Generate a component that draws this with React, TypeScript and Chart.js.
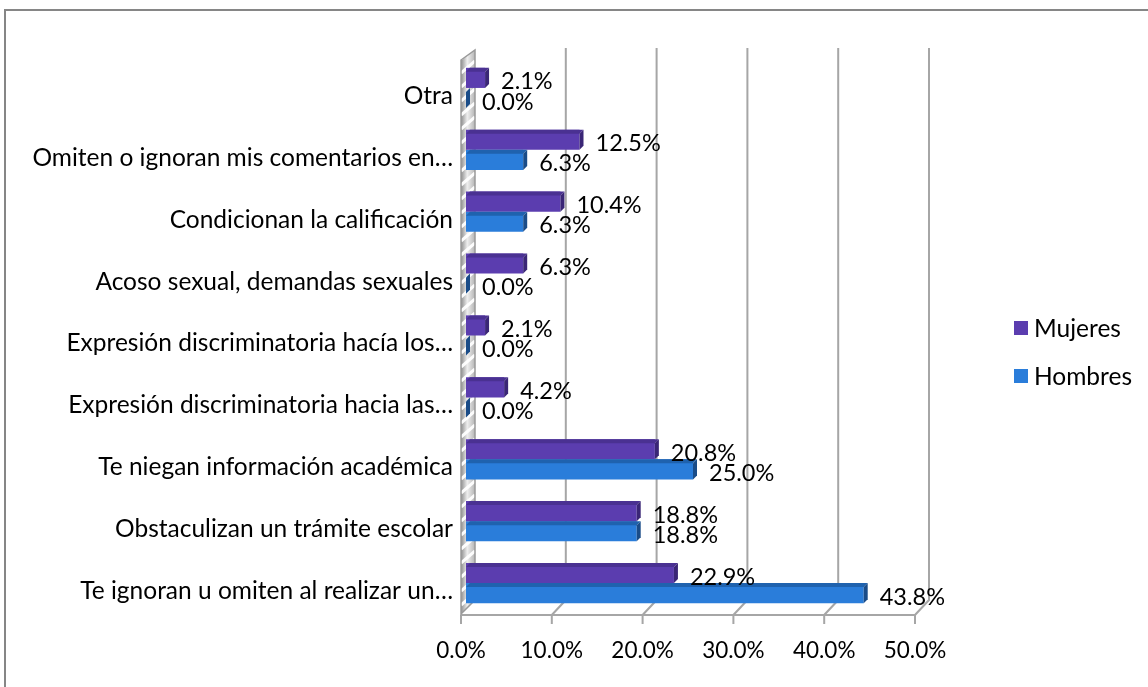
import React, { useEffect, useRef } from "react";
import { Chart, registerables } from "chart.js";

Chart.register(...registerables);

const categories = [
  "Otra",
  "Omiten o ignoran mis comentarios en…",
  "Condicionan la calificación",
  "Acoso sexual, demandas sexuales",
  "Expresión discriminatoria hacía los…",
  "Expresión discriminatoria hacia las…",
  "Te niegan información académica",
  "Obstaculizan un trámite escolar",
  "Te ignoran u omiten al realizar un…",
];
const mujeres = [2.1, 12.5, 10.4, 6.3, 2.1, 4.2, 20.8, 18.8, 22.9];
const hombres = [0.0, 6.3, 6.3, 0.0, 0.0, 0.0, 25.0, 18.8, 43.8];
const xTicks = [0, 10, 20, 30, 40, 50];
const seriesNames = ["Mujeres", "Hombres"];

const frontColors = ["#5B3DAF", "#2A7DDA"];
const topColors = ["#4A3192", "#1F62AE"];
const sideColors = ["#3A2676", "#1A4C88"];
const FONT = "Lato, 'Open Sans', sans-serif";
const FS_TEXT = 24.5;
const FS_NUM = 23.5;

const threeD = {
  id: "threeD",
  beforeDraw(chart: any) {
    const { ctx, width, height } = chart;
    ctx.save();
    ctx.fillStyle = "#ffffff";
    ctx.fillRect(0, 0, width, height);
    ctx.strokeStyle = "#868686";
    ctx.lineWidth = 2;
    ctx.beginPath();
    ctx.moveTo(5, height);
    ctx.lineTo(5, 10);
    ctx.lineTo(width, 10);
    ctx.stroke();
    ctx.restore();
  },
  beforeDatasetsDraw(chart: any) {
    const { ctx, chartArea, scales } = chart;
    const x = scales.x;
    const top = chartArea.top;
    const bottom = chartArea.bottom;
    const backTop = top - 9;
    const backFloor = bottom - 14;
    const frontFloor = bottom + 1;
    ctx.save();
    ctx.strokeStyle = "#a6a6a6";
    ctx.lineWidth = 2;
    for (const v of xTicks) {
      const px = x.getPixelForValue(v);
      ctx.beginPath();
      if (v !== 0) {
        ctx.moveTo(px + 9, backTop);
        ctx.lineTo(px + 9, backFloor);
        ctx.lineTo(px - 5, frontFloor);
      } else {
        ctx.moveTo(px - 5, frontFloor);
      }
      ctx.lineTo(px - 5, frontFloor + 9);
      ctx.stroke();
    }
    const x0 = x.getPixelForValue(0);
    const x50 = x.getPixelForValue(50);
    ctx.beginPath();
    ctx.moveTo(x0 - 5, frontFloor);
    ctx.lineTo(x50 - 5, frontFloor);
    ctx.stroke();

    // side wall
    const wallPath = () => {
      ctx.beginPath();
      ctx.moveTo(x0 - 5, top + 3);
      ctx.lineTo(x0 + 9, top - 7);
      ctx.lineTo(x0 + 9, backFloor);
      ctx.lineTo(x0 - 5, frontFloor - 1);
      ctx.closePath();
    };
    wallPath();
    const g = ctx.createLinearGradient(x0 - 5, 0, x0 + 9, 0);
    g.addColorStop(0, "#8f8f8f");
    g.addColorStop(0.45, "#eeeeee");
    g.addColorStop(1, "#b5b5b5");
    ctx.fillStyle = g;
    ctx.fill();
    ctx.save();
    ctx.clip();
    ctx.strokeStyle = "rgba(255,255,255,0.95)";
    ctx.lineWidth = 3;
    for (let yy = top - 10; yy < frontFloor + 20; yy += 14) {
      ctx.beginPath();
      ctx.moveTo(x0 - 5, yy + 12);
      ctx.lineTo(x0 + 9, yy);
      ctx.stroke();
    }
    ctx.restore();
    ctx.strokeStyle = "#9a9a9a";
    ctx.lineWidth = 1.5;
    wallPath();
    ctx.stroke();
    ctx.restore();
  },
  afterDatasetsDraw(chart: any) {
    const { ctx, chartArea } = chart;
    const d = 4;
    ctx.save();
    for (const di of [1, 0]) {
      const meta = chart.getDatasetMeta(di);
      meta.data.forEach((el: any) => {
        const p = el.getProps(["x", "y", "base", "height"], true);
        const t = p.y - p.height / 2;
        const b = p.y + p.height / 2;
        ctx.fillStyle = topColors[di];
        ctx.beginPath();
        ctx.moveTo(p.base, t + d);
        ctx.lineTo(p.base + d, t);
        ctx.lineTo(p.x + d, t);
        ctx.lineTo(p.x, t + d);
        ctx.closePath();
        ctx.fill();
        ctx.fillStyle = sideColors[di];
        ctx.beginPath();
        ctx.moveTo(p.x, t + d);
        ctx.lineTo(p.x + d, t);
        ctx.lineTo(p.x + d, b - d);
        ctx.lineTo(p.x, b);
        ctx.closePath();
        ctx.fill();
      });
    }
    ctx.fillStyle = "#000000";
    ctx.font = `${FS_NUM}px ${FONT}`;
    ctx.textAlign = "left";
    ctx.textBaseline = "middle";
    for (const di of [1, 0]) {
      const meta = chart.getDatasetMeta(di);
      const vals = chart.data.datasets[di].data;
      meta.data.forEach((el: any, i: number) => {
        const p = el.getProps(["x", "y"], true);
        ctx.fillText(vals[i].toFixed(1) + "%", p.x + 16, p.y + 4);
      });
    }
    // legend
    ctx.font = `${FS_TEXT}px ${FONT}`;
    const lx = chartArea.right + 94;
    seriesNames.forEach((name, i) => {
      const cy = 328 + i * 48;
      ctx.fillStyle = frontColors[i];
      ctx.fillRect(lx, cy - 7, 14, 14);
      ctx.fillStyle = "#000000";
      ctx.fillText(name, lx + 20, cy + 1);
    });
    ctx.restore();
  },
};

export default function App() {
  const ref = useRef<HTMLCanvasElement | null>(null);
  useEffect(() => {
    document.body.style.margin = "0";
    const canvas = ref.current!;
    const chart = new Chart(canvas, {
      type: "bar",
      data: {
        labels: categories,
        datasets: [
          {
            label: seriesNames[0],
            data: mujeres,
            backgroundColor: frontColors[0],
            borderWidth: 0,
            categoryPercentage: 0.65,
            barPercentage: 1.0,
          },
          {
            label: seriesNames[1],
            data: hombres,
            backgroundColor: frontColors[1],
            borderWidth: 0,
            categoryPercentage: 0.65,
            barPercentage: 1.0,
          },
        ],
      },
      options: {
        indexAxis: "y",
        animation: false,
        responsive: false,
        maintainAspectRatio: false,
        layout: { padding: { top: 57, right: 228, left: 0, bottom: 0 } },
        plugins: {
          legend: { display: false },
          tooltip: { enabled: false },
        },
        scales: {
          x: {
            min: 0,
            max: 50,
            afterBuildTicks: (axis: any) => {
              axis.ticks = xTicks.map((v) => ({ value: v }));
            },
            afterFit: (axis: any) => {
              axis.height = 73;
            },
            grid: { display: false, drawTicks: false },
            border: { display: false },
            ticks: {
              padding: 23,
              labelOffset: -5,
              color: "#000000",
              font: { family: FONT, size: 22.5 },
              callback: (v: any) => Number(v).toFixed(1) + "%",
            },
          },
          y: {
            afterFit: (axis: any) => {
              axis.width = 466;
            },
            grid: { display: false, drawTicks: false },
            border: { display: false },
            ticks: {
              padding: 13,
              labelOffset: 8,
              color: "#000000",
              font: { family: FONT, size: FS_TEXT },
            },
          },
        },
      },
      plugins: [threeD],
    });
    return () => chart.destroy();
  }, []);
  return (
    <div style={{ width: 1148, height: 687 }}>
      <canvas ref={ref} width={1148} height={687} style={{ display: "block" }} />
    </div>
  );
}
